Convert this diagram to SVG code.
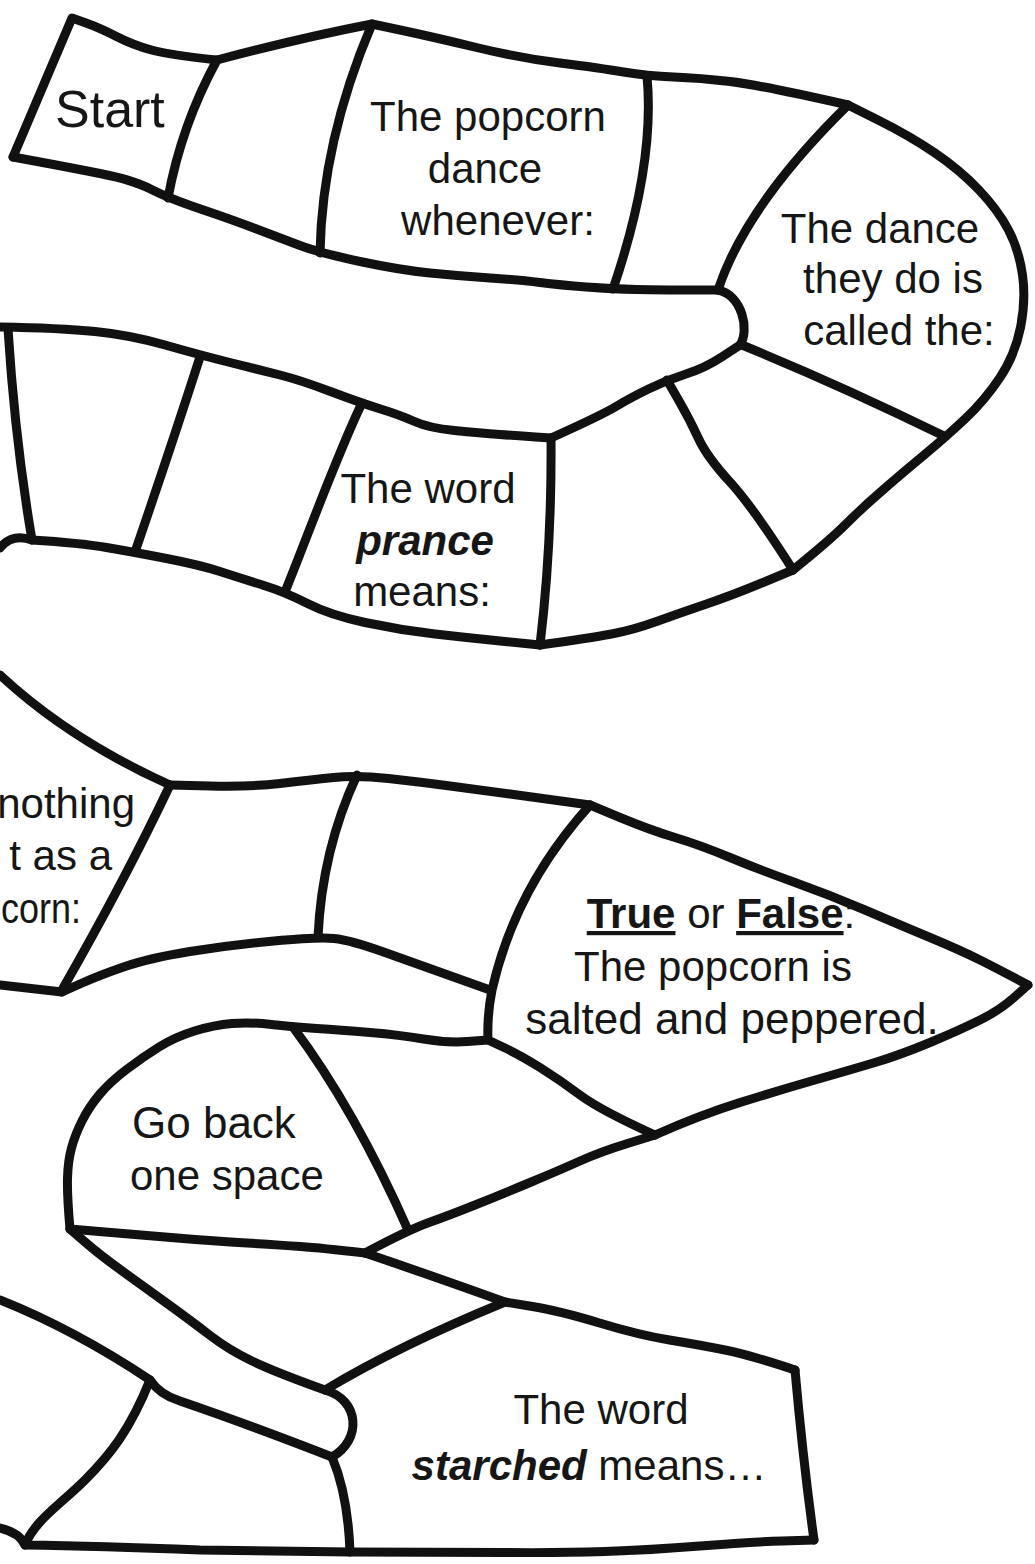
<svg xmlns="http://www.w3.org/2000/svg" width="1035" height="1564" viewBox="0 0 1035 1564">
<style>
.ln{fill:none;stroke:#111;stroke-width:9;stroke-linejoin:round;stroke-linecap:round}
.t{font-family:"Liberation Sans",Arial,sans-serif;font-size:42px;fill:#161616}
.m{text-anchor:middle}
.e{text-anchor:end}
.bi{font-weight:bold;font-style:italic}
.b{font-weight:bold}
</style>
<rect width="1035" height="1564" fill="#fff"/>
<g id="connectors">
<!-- Row 1 outline -->
<path class="ln" d="M13,157 L72,18 L86,23 Q100,28 116.5,36.5 Q133,45 151.5,50 Q170,55 217,60 Q300,38 372,24 L402.5,30.5 Q433,37 476.5,47.5 Q520,58 560,63 Q600,68 623.5,72 Q647,76 673.5,77 Q700,78 730,81.5 Q760,85 848,105"/>
<path class="ln" d="M848,105 L879,120.5 Q910,136 935,153 Q960,170 979,190 Q998,210 1008.5,230 Q1019,250 1022.5,275 Q1026,300 1020.5,327.5 Q1015,355 1000,377.5 Q985,400 966,418 Q947,436 923.5,455.5 Q900,475 880,492.5 Q860,510 845,525 Q830,540 793,570"/>
<path class="ln" d="M793,570 L763,582.5 Q733,595 706.5,604 Q680,613 656.5,621.5 Q633,630 611.5,634 Q590,638 540,645"/>
<path class="ln" d="M540,645 L505,641.5 Q470,638 435,634 Q400,630 365,622.5 Q330,615 307.5,603.5 Q285,592 262.5,585 Q240,578 220,571.5 Q200,565 166.5,558.5 Q133,552 106.5,547.5 Q80,543 32,540 Q12,533 0,548"/>
<path class="ln" d="M13,157 L40,162 Q67,167 100,173.5 Q133,180 150.5,189 Q168,198 200.5,209 Q233,220 256.5,229 Q280,238 300,245.5 Q320,253 360,261.5 Q400,270 430,273 Q460,276 490,278 Q520,280 540,282.5 Q560,285 586.5,287 Q613,289 636.5,289.5 Q660,290 718,290"/>
<path class="ln" d="M718,290 C742,295 750,330 740,345"/>
<path class="ln" d="M740,345 L722.5,356.5 Q705,368 686,374 Q667,380 648.5,389 Q630,398 616,406.5 Q602,415 551,438"/>
<path class="ln" d="M551,438 L535.5,437 Q520,436 500,434.5 Q480,433 454.5,430.5 Q429,428 414.5,421.5 Q400,415 380.5,409 Q361,403 330.5,391.5 Q300,380 280,375 Q260,370 230,362.5 Q200,355 165,345 Q130,335 95,331.5 Q60,328 0,327"/>
<!-- Row 1/2 dividers -->
<path class="ln" d="M217,60 Q181.5,125 168,198"/>
<path class="ln" d="M372,24 Q322,141.5 320,253"/>
<path class="ln" d="M647,76 C653,140 640,210 613,289"/>
<path class="ln" d="M848,105 Q746,205 718,290"/>
<path class="ln" d="M742,345 Q840,385 944,436"/>
<path class="ln" d="M667,380 L678.5,400 Q690,420 698.5,438.5 Q707,457 730,482 Q753,507 793,570"/>
<path class="ln" d="M551,438 Q552,545 540,645"/>
<path class="ln" d="M8,329 Q15,440 32,540"/>
<path class="ln" d="M200,357 Q170,450 135,552"/>
<path class="ln" d="M361,405 C335,460 310,530 285,592"/>
<!-- Row 3 -->
<path class="ln" d="M0,675 Q70,740 170,785"/>
<path class="ln" d="M170,785 L210,786 Q250,787 280,783.5 Q310,780 333.5,777.5 Q357,775 388.5,778.5 Q420,782 450,786 Q480,790 510,794 Q540,798 590,805"/>
<path class="ln" d="M590,805 L620,817.5 Q650,830 675,837.5 Q700,845 730,857.5 Q760,870 795,882.5 Q830,895 865,910 Q900,925 930,937.5 Q960,950 980,960 Q1000,970 1028,985"/>
<path class="ln" d="M1028,985 L1014,997.5 Q1000,1010 980,1020 Q960,1030 930,1042.5 Q900,1055 875,1062.5 Q850,1070 815,1080 Q780,1090 740,1102.5 Q700,1115 655,1135"/>
<path class="ln" d="M170,785 Q125,880 62,990"/>
<path class="ln" d="M0,985 L62,992"/>
<path class="ln" d="M62,992 L81,983.5 Q100,975 125,966.5 Q150,958 190,951.5 Q230,945 274,941 Q318,937 334,938.5 Q350,940 385,952.5 Q420,965 490,990"/>
<path class="ln" d="M357,775 Q322,850 318,937"/>
<path class="ln" d="M590,805 Q515,888 492,990 Q487,1015 488,1040 L504,1047.5 Q520,1055 540,1067.5 Q560,1080 580,1095 Q600,1110 655,1135"/>
<path class="ln" d="M655,1135 L627.5,1143.5 Q600,1152 580,1161 Q560,1170 530,1182.5 Q500,1195 475,1205 Q450,1215 429,1222.5 Q408,1230 365,1253"/>
<!-- Row 4 -->
<path class="ln" d="M488,1040 L467.5,1041.5 Q447,1043 423.5,1039 Q400,1035 370,1032.5 Q340,1030 316.5,1028.5 Q293,1027 271.5,1024.5 Q250,1022 232,1023.5 Q214,1025 194.5,1031 Q175,1037 159,1047 Q143,1057 126.5,1069.5 Q110,1082 99.5,1094.5 Q89,1107 82,1121 Q75,1135 71.5,1148 Q68,1161 67.5,1178 Q67,1195 70,1229"/>
<path class="ln" d="M70,1229 L105,1232 Q140,1235 177,1238 Q214,1241 247,1243 Q280,1245 300.5,1246.5 Q321,1248 365,1253"/>
<path class="ln" d="M365,1253 Q430,1275 505,1302 L532.5,1306.5 Q560,1311 599.5,1323 Q639,1335 669.5,1340 Q700,1345 725,1350 Q750,1355 795,1370"/>
<path class="ln" d="M795,1370 Q803,1460 814,1540"/>
<path class="ln" d="M814,1540 L782,1541 Q750,1542 700,1546 Q650,1550 605,1551.5 Q560,1553 505,1552.5 Q450,1552 350,1552 L200,1550 Q100,1546 25,1545 Q20,1533 0,1528"/>
<path class="ln" d="M293,1027 Q355,1110 408,1230"/>
<path class="ln" d="M70,1229 L85,1242 Q100,1255 121.5,1270.5 Q143,1286 166.5,1303 Q190,1320 209.5,1335 Q229,1350 252,1361 Q275,1372 325,1390"/>
<path class="ln" d="M325,1390 Q400,1345 505,1302"/>
<path class="ln" d="M325,1390 C360,1400 362,1440 332,1457"/>
<path class="ln" d="M0,1300 Q75,1330 150,1380 Q160,1395 180,1401 Q250,1425 332,1457"/>
<path class="ln" d="M150,1380 C130,1430 110,1455 85,1480 C60,1505 35,1520 25,1545"/>
<path class="ln" d="M332,1457 Q348,1495 350,1552"/>
</g>
<g id="space-start"><text class="t" x="55" y="127" style="font-size:52px">Start</text></g>
<g id="space-popcorn-dance">
<text class="t m" x="488" y="131">The popcorn</text>
<text class="t m" x="485" y="183">dance</text>
<text class="t m" x="498" y="235">whenever:</text>
</g>
<g id="space-dance-called">
<text class="t m" x="880" y="243">The dance</text>
<text class="t m" x="893" y="293">they do is</text>
<text class="t m" x="899" y="345">called the:</text>
</g>
<g id="space-prance">
<text class="t m" x="428" y="503">The word</text>
<text class="t m bi" x="425" y="555">prance</text>
<text class="t m" x="422" y="606">means:</text>
</g>
<g id="space-nothing">
<text class="t e" x="135" y="818">nothing</text>
<text class="t e" x="112" y="870">t as a</text>
<text class="t" x="1" y="923" textLength="80" lengthAdjust="spacingAndGlyphs">corn:</text>
</g>
<g id="space-true-false">
<text class="t m" x="721" y="928"><tspan class="b" text-decoration="underline">True</tspan> or <tspan class="b" text-decoration="underline">False</tspan>:</text>
<text class="t m" x="713" y="981">The popcorn is</text>
<text class="t m" x="732" y="1034" style="font-size:44px">salted and peppered.</text>
</g>
<g id="space-go-back">
<text class="t" x="132" y="1138" style="font-size:44px">Go back</text>
<text class="t" x="130" y="1190">one space</text>
</g>
<g id="space-starched">
<text class="t m" x="601" y="1424">The word</text>
<text class="t m" x="589" y="1480"><tspan class="bi">starched</tspan> means…</text>
</g>
</svg>
